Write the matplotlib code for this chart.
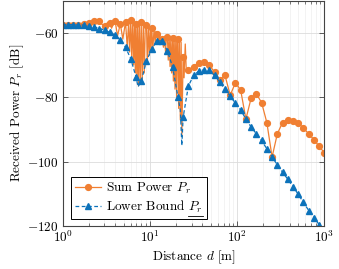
import numpy as np
import matplotlib
matplotlib.use("Agg")
import matplotlib.pyplot as plt
from matplotlib.lines import Line2D
from matplotlib.ticker import FixedLocator, LogLocator, FuncFormatter, NullFormatter

# marker grid (distance in m)
marker_d = [1.000, 1.148, 1.318, 1.514, 1.738, 1.995, 2.291, 2.630, 3.020, 3.467,
            3.981, 4.571, 5.248, 6.026, 6.918, 7.943, 9.120, 10.47, 12.02, 13.80,
            15.85, 18.20, 20.89, 23.99, 27.54, 31.62, 36.31, 41.69, 47.86, 54.95,
            63.10, 72.44, 83.18, 95.50, 109.6, 125.9, 144.5, 166.0, 190.5, 218.8,
            251.2, 288.4, 331.1, 380.2, 436.5, 501.2, 575.4, 660.7, 758.6, 871.0,
            1000.0]

# Sum power at the marker grid [dB]
sum_power = [-57.6, -57.6, -57.6, -57.5, -57.3, -56.9, -56.5, -56.5, -57.8, -56.9,
             -56.2, -57.2, -56.6, -56.1, -57.3, -56.8, -57.6, -58.4, -60.5, -62.0,
             -61.3, -61.5, -62.0, -67.6, -71.5, -70.5, -69.3, -69.2, -70.0, -72.2,
             -74.6, -73.2, -79.4, -75.5, -77.8, -86.8, -80.3, -79.0, -81.7, -87.9,
             -98.6, -91.4, -87.9, -87.1, -87.3, -88.1, -89.6, -91.4, -93.2, -95.3,
             -97.3]

# fast fading in between the markers
sum_extra_d = [2.14, 2.44, 2.82, 3.22, 3.63, 4.25, 4.89, 5.49, 5.70, 5.85,
               6.18, 6.35, 6.50, 6.66, 6.80, 7.08, 7.23, 7.38, 7.56, 7.74,
               8.16, 8.38, 8.61, 8.85, 9.33, 9.59, 9.84, 10.11, 10.30, 10.80,
               11.14, 11.50, 11.75, 12.39, 12.88, 13.30, 14.28, 14.66, 15.10, 15.46,
               16.21, 16.60, 17.00, 17.36, 17.74, 18.55, 18.95, 19.36, 19.78, 20.20,
               20.56, 21.34, 21.78, 22.29, 22.78, 23.20, 24.60, 25.40, 26.10]
sum_extra_p = [-56.7, -57.0, -57.4, -57.0, -58.6, -61.0, -62.0, -64.5, -56.6, -66.0,
               -67.5, -57.0, -70.0, -57.2, -72.5, -74.5, -57.8, -76.5, -57.5, -75.5,
               -74.5, -57.3, -72.5, -57.5, -69.5, -58.0, -67.0, -58.2, -65.5, -64.8,
               -59.0, -63.5, -59.6, -63.0, -60.3, -62.8, -64.5, -61.2, -66.0, -61.0,
               -68.5, -61.2, -70.5, -61.3, -72.5, -75.0, -61.6, -77.5, -61.8, -80.0,
               -62.0, -83.5, -62.5, -87.0, -63.0, -92.0, -74.0, -63.5, -72.0]

# Lower bound at the marker grid [dB]
lower_bound = [-57.5, -57.5, -57.5, -57.6, -57.6, -57.85, -58.15, -58.7, -59.1, -59.9,
               -60.7, -62.3, -64.5, -68.1, -73.7, -75.0, -68.8, -65.0, -62.6, -62.5,
               -65.6, -70.7, -79.8, -86.3, -76.6, -73.2, -71.9, -71.5, -71.7, -73.2,
               -75.3, -77.6, -79.7, -81.9, -84.0, -86.8, -89.3, -91.4, -93.4, -96.1,
               -98.6, -101.0, -103.3, -105.5, -107.8, -110.2, -112.7, -115.2, -117.4, -119.6,
               -122.0]
lower_extra_d = [7.30, 22.30, 23.20]
lower_extra_p = [-76.8, -84.0, -95.0]

x_ticks = [1, 10, 100, 1000]
y_ticks = [-120, -100, -80, -60]

orange = "#F07F32"
blue = "#0C72BA"


def merge(d_main, p_main, d_extra, p_extra):
    d = np.concatenate([d_main, d_extra])
    p = np.concatenate([p_main, p_extra])
    is_marker = np.r_[np.ones(len(d_main)), np.zeros(len(d_extra))]
    order = np.argsort(d, kind="stable")
    return d[order], p[order], list(np.flatnonzero(is_marker[order]))


plt.rcParams["font.family"] = "serif"
plt.rcParams["font.serif"] = ["cmr10"]
plt.rcParams["mathtext.fontset"] = "cm"
plt.rcParams["axes.unicode_minus"] = False
plt.rcParams["axes.formatter.use_mathtext"] = True
plt.rcParams["font.size"] = 9.5

fig = plt.figure(figsize=(3.39, 2.69), dpi=100)
ax = fig.add_axes([0.185, 0.160, 0.772, 0.838])

d, p, every = merge(marker_d, sum_power, sum_extra_d, sum_extra_p)
ax.plot(d, p, "-", color=orange, lw=0.9, marker="o", ms=4.2, markevery=every,
        mec=orange, label="Sum Power $P_r$")

d, p, every = merge(marker_d, lower_bound, lower_extra_d, lower_extra_p)
ax.plot(d, p, "--", color=blue, lw=0.9, dashes=(3, 2), marker="^", ms=4.6,
        markevery=every, mec=blue, label="Lower Bound $P_r$")

ax.set_xscale("log")
ax.set_xlim(1, 1000)
ax.set_ylim(-120, -50)
ax.xaxis.set_major_locator(FixedLocator(x_ticks))
ax.xaxis.set_minor_locator(LogLocator(base=10, subs=np.arange(2, 10)))
ax.xaxis.set_minor_formatter(NullFormatter())
ax.xaxis.set_major_formatter(FuncFormatter(lambda v, _: "$10^{%d}$" % round(np.log10(v))))
ax.yaxis.set_major_locator(FixedLocator(y_ticks))
ax.yaxis.set_major_formatter(FuncFormatter(lambda v, _: "$%d$" % v))

ax.grid(True, which="major", color="#DCDCDC", lw=0.6)
ax.grid(True, which="minor", axis="x", color="#EEEEEE", lw=0.5)
ax.set_axisbelow(True)

ax.tick_params(which="both", direction="in", top=True, right=True, color="#444444")
ax.tick_params(which="major", length=3.5, width=0.6, pad=3)
ax.tick_params(which="minor", length=2, width=0.5)
for s in ax.spines.values():
    s.set_color("#444444")
    s.set_linewidth(0.8)

ax.set_xlabel("Distance $d$ [m]", labelpad=2)
ax.set_ylabel("Received Power $P_r$ [dB]", labelpad=1)

leg = ax.legend(loc="lower left", bbox_to_anchor=(0.03, 0.03), borderaxespad=0,
                fancybox=False, edgecolor="black", framealpha=1, numpoints=1,
                handlelength=2.0, handletextpad=0.4, borderpad=0.3, labelspacing=0.2)
leg.get_frame().set_linewidth(0.7)

# underline the P_r of the lower bound entry (mathtext has no \underline)
fig.canvas.draw()
renderer = fig.canvas.get_renderer()
txt = leg.get_texts()[1]
bb = txt.get_window_extent(renderer)
probe = fig.text(0, 0, "$P_r$", fontproperties=txt.get_fontproperties())
w = probe.get_window_extent(renderer).width
probe.remove()
y_line = bb.y0 - 0.5
fig.add_artist(Line2D([(bb.x1 - w) / fig.bbox.width, bb.x1 / fig.bbox.width],
                      [y_line / fig.bbox.height] * 2, color="black", lw=0.6))

fig.savefig("out.png", dpi=100)
